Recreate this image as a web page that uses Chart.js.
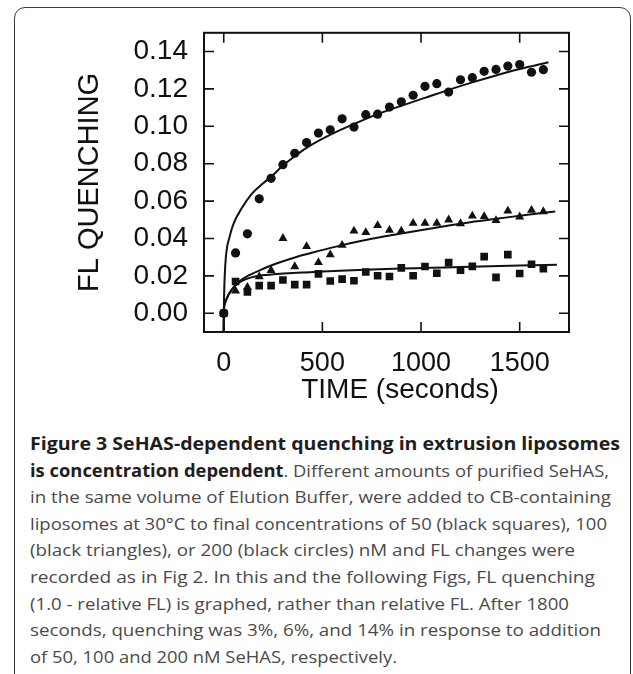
<!DOCTYPE html>
<html><head><meta charset="utf-8">
<script src="https://cdn.jsdelivr.net/npm/chart.js@4.4.1/dist/chart.umd.min.js"></script>
<style>
html,body{margin:0;padding:0;background:#fff;width:633px;height:674px;overflow:hidden;position:relative;}
#frame{position:absolute;left:14px;top:7px;width:617px;height:720px;border:1.5px solid #3c3c3c;border-radius:11px;box-sizing:border-box;}
#wrap{position:absolute;left:0;top:0;width:633px;height:422px;}
#caption{position:absolute;left:30px;top:431px;font-family:"Open Sans",sans-serif;font-size:17px;line-height:26.6px;color:#4a4a4a;}
#caption div{white-space:nowrap;height:26.6px;}
#caption span{display:inline-block;transform-origin:0 0;white-space:nowrap;}
#caption b{color:#1e1e1e;font-weight:700;}
</style></head><body>
<div id="frame"></div>
<div id="wrap"><canvas id="c" width="633" height="422"></canvas></div>
<div id="caption">
<div><span><b>Figure 3 SeHAS-dependent quenching in extrusion liposomes</b></span></div>
<div><span><b>is concentration dependent</b>. Different amounts of purified SeHAS,</span></div>
<div><span>in the same volume of Elution Buffer, were added to CB-containing</span></div>
<div><span>liposomes at 30°C to final concentrations of 50 (black squares), 100</span></div>
<div><span>(black triangles), or 200 (black circles) nM and FL changes were</span></div>
<div><span>recorded as in Fig 2. In this and the following Figs, FL quenching</span></div>
<div><span>(1.0 - relative FL) is graphed, rather than relative FL. After 1800</span></div>
<div><span>seconds, quenching was 3%, 6%, and 14% in response to addition</span></div>
<div><span>of 50, 100 and 200 nM SeHAS, respectively.</span></div>
</div>
<script>
// ---- data ----
const times = [0, 60, 120, 180, 240, 300, 360, 420, 480, 540, 600, 660, 720, 780, 840, 900, 960, 1020, 1080, 1140, 1200, 1260, 1320, 1380, 1440, 1500, 1560, 1620];
const circles200 = [0, 0.0323, 0.0425, 0.0612, 0.0722, 0.0795, 0.0856, 0.0913, 0.0964, 0.0981, 0.1040, 0.0996, 0.1062, 0.1065, 0.1103, 0.1131, 0.1166, 0.1214, 0.1228, 0.1183, 0.1249, 0.1260, 0.1294, 0.1304, 0.1322, 0.1330, 0.1289, 0.1303];
const triangles100 = [0, 0.0120, 0.0140, 0.0196, 0.0230, 0.0401, 0.0250, 0.0358, 0.0272, 0.0314, 0.0364, 0.0441, 0.0432, 0.0470, 0.0445, 0.0441, 0.0482, 0.0482, 0.0482, 0.0500, 0.0480, 0.0521, 0.0518, 0.0497, 0.0547, 0.0516, 0.0552, 0.0544];
const squares50 = [0, 0.0170, 0.0114, 0.0148, 0.0148, 0.0178, 0.0153, 0.0153, 0.0211, 0.0173, 0.0183, 0.0174, 0.0221, 0.0201, 0.0197, 0.0243, 0.0201, 0.0250, 0.0214, 0.0271, 0.0230, 0.0251, 0.0303, 0.0192, 0.0314, 0.0213, 0.0262, 0.0239];

const fit200X = [0, 1, 3, 10, 30, 50, 90, 140, 200, 240, 300, 360, 420, 487, 560, 656, 780, 900, 1020, 1140, 1260, 1380, 1500, 1646];
const fit200Y = [-0.010, 0.004, 0.014, 0.029, 0.041, 0.048, 0.056, 0.0636, 0.0695, 0.0730, 0.0790, 0.0840, 0.0885, 0.0926, 0.0965, 0.1010, 0.1065, 0.1110, 0.1152, 0.1195, 0.1235, 0.1272, 0.1306, 0.1342];
const fit100X = [0, 1, 5, 22, 47, 81, 132, 200, 267, 352, 437, 487, 589, 700, 826, 960, 1096, 1250, 1400, 1540, 1680];
const fit100Y = [-0.010, 0.001, 0.005, 0.0095, 0.0135, 0.0172, 0.0205, 0.0238, 0.0266, 0.0296, 0.0321, 0.0335, 0.0362, 0.0388, 0.0413, 0.0438, 0.0462, 0.0487, 0.0508, 0.0527, 0.0544];
const fit50X = [0, 1, 5, 22, 47, 70, 98, 140, 183, 267, 350, 437, 589, 750, 900, 1050, 1200, 1350, 1500, 1689];
const fit50Y = [-0.010, 0.001, 0.005, 0.0095, 0.0135, 0.0158, 0.0176, 0.0192, 0.0201, 0.0210, 0.0216, 0.0220, 0.0228, 0.0234, 0.0239, 0.0243, 0.0248, 0.0252, 0.0256, 0.0260];

const xTicks = [0, 500, 1000, 1500];
const yTicks = [0, 0.02, 0.04, 0.06, 0.08, 0.10, 0.12, 0.14];
const xTitle = 'TIME (seconds)';
const yTitle = 'FL QUENCHING';

const pts = (xs, ys) => xs.map((x, i) => ({x: x, y: ys[i]}));
const INK = '#111';
const AX_FONT = '"Liberation Sans", Arial, Helvetica, sans-serif';

const framePlugin = {
  id: 'frameTicks',
  afterDraw(chart) {
    const {ctx, chartArea: a, scales: {x, y}} = chart;
    ctx.save();
    ctx.strokeStyle = INK;
    ctx.lineWidth = 2;
    ctx.strokeRect(a.left, a.top, a.right - a.left, a.bottom - a.top);
    ctx.lineWidth = 1.6;
    const L = 10;
    ctx.beginPath();
    xTicks.forEach(v => {
      const px = x.getPixelForValue(v);
      ctx.moveTo(px, a.bottom); ctx.lineTo(px, a.bottom - L);
      ctx.moveTo(px, a.top); ctx.lineTo(px, a.top + L);
    });
    yTicks.forEach(v => {
      const py = y.getPixelForValue(v);
      ctx.moveTo(a.left, py); ctx.lineTo(a.left + L, py);
      ctx.moveTo(a.right, py); ctx.lineTo(a.right - L, py);
    });
    ctx.stroke();
    ctx.fillStyle = INK;
    ctx.font = '28px ' + AX_FONT;
    ctx.textAlign = 'center';
    ctx.textBaseline = 'alphabetic';
    ctx.fillText(xTitle, 400, 398);
    ctx.restore();
  }
};

const lineDs = (data) => ({
  data, showLine: true, pointRadius: 0, borderColor: INK, borderWidth: 2,
  cubicInterpolationMode: 'monotone', fill: false, order: 2
});
const markDs = (data, style, r) => ({
  data, showLine: false, pointStyle: style, pointRadius: r, pointHoverRadius: r,
  backgroundColor: INK, borderColor: INK, borderWidth: 0, order: 1
});

new Chart(document.getElementById('c'), {
  type: 'scatter',
  data: {
    datasets: [
      lineDs(pts(fit200X, fit200Y)),
      lineDs(pts(fit100X, fit100Y)),
      lineDs(pts(fit50X, fit50Y)),
      markDs(pts(times, squares50), 'rect', 5.4),
      markDs(pts(times, triangles100), 'triangle', 5.2),
      markDs(pts(times, circles200), 'circle', 4.6)
    ]
  },
  options: {
    responsive: false,
    animation: false,
    devicePixelRatio: 1,
    layout: {padding: {left: 0, right: 64, top: 24, bottom: 0}},
    plugins: {legend: {display: false}, tooltip: {enabled: false}},
    scales: {
      x: {
        type: 'linear', min: -100, max: 1750,
        grid: {display: false, drawTicks: false}, border: {display: false},
        afterBuildTicks: s => { s.ticks = xTicks.map(v => ({value: v})); },
        afterFit: s => { s.height = 90; },
        ticks: {autoSkip: false, maxRotation: 0, padding: 15, color: INK,
          font: {family: AX_FONT, size: 27}, callback: v => String(v)}
      },
      y: {
        type: 'linear', min: -0.01, max: 0.15,
        grid: {display: false, drawTicks: false}, border: {display: false},
        afterBuildTicks: s => { s.ticks = yTicks.map(v => ({value: v})); },
        afterFit: s => { s.width = 204; },
        ticks: {autoSkip: false, padding: 16, color: INK,
          font: {family: AX_FONT, size: 28}, callback: v => v.toFixed(2)},
        title: {display: true, text: yTitle, color: INK,
          font: {family: AX_FONT, size: 29}, padding: {top: 72.6, bottom: 0}}
      }
    }
  },
  plugins: [framePlugin]
});

// caption line widths (right edges, left edge at 30px)
const lineWidths = [590, 579, 581, 577, 545, 565, 539, 571, 367];
const fit = () => {
  document.querySelectorAll('#caption span').forEach((s, i) => {
    s.style.transform = 'none';
    const w = s.getBoundingClientRect().width;
    if (w > 0) s.style.transform = 'scaleX(' + (lineWidths[i] / w) + ')';
  });
};
fit();
if (document.fonts && document.fonts.ready) document.fonts.ready.then(fit);
</script>
</body></html>
